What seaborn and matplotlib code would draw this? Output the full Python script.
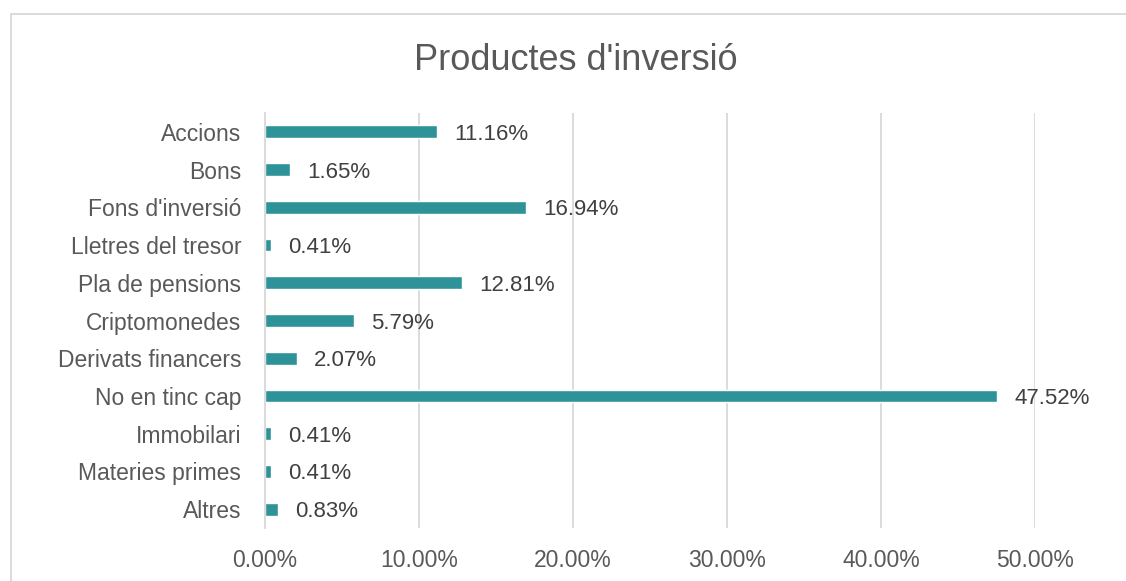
import pandas as pd
import seaborn as sns
import matplotlib.pyplot as plt
from matplotlib.patches import Rectangle
from matplotlib.ticker import PercentFormatter

# Data
categories = ['Accions', 'Bons', "Fons d'inversió", 'Lletres del tresor',
              'Pla de pensions', 'Criptomonedes', 'Derivats financers',
              'No en tinc cap', 'Immobilari', 'Materies primes', 'Altres']
shares = [11.16, 1.65, 16.94, 0.41, 12.81, 5.79, 2.07, 47.52, 0.41, 0.41, 0.83]

BAR_COLOR = '#2E9399'
TEXT_COLOR = '#595959'
GRID_COLOR = '#D9D9D9'

df = pd.DataFrame({'producte': categories, 'percent': shares})

sns.set_style('white')
plt.rcParams['font.family'] = ['Liberation Sans', 'DejaVu Sans']

fig = plt.figure(figsize=(11.26, 5.81), dpi=100)
ax = fig.add_axes([0.2353, 0.0912, 0.6843, 0.7143])

sns.barplot(data=df, x='percent', y='producte', color=BAR_COLOR,
            width=0.34, saturation=1, ax=ax, orient='h')

for i, v in enumerate(shares):
    ax.text(v + 1.1, i, f'{v:.2f}%', va='center_baseline', ha='left',
            fontsize=16, color='#404040')

ax.set_xlim(0, 50)
ax.set_ylim(10.5, -0.5)
ax.set_xticks([0, 10, 20, 30, 40, 50])
ax.xaxis.set_major_formatter(PercentFormatter(decimals=2))
ax.grid(axis='x', color=GRID_COLOR, linewidth=1.3)
ax.set_axisbelow(True)
ax.tick_params(axis='both', length=0, labelsize=16.5, labelcolor=TEXT_COLOR)
ax.tick_params(axis='y', pad=17)
ax.tick_params(axis='x', pad=15)
ax.set_xlabel('')
ax.set_ylabel('')
for side in ['top', 'right', 'bottom']:
    ax.spines[side].set_visible(False)
ax.spines['left'].set_color(GRID_COLOR)
ax.spines['left'].set_linewidth(1.3)

fig.text(0.511, 0.896, "Productes d'inversió", ha='center', va='center',
         fontsize=26, color=TEXT_COLOR)

# chart area border
fig.patches.append(Rectangle((11 / 1126, -0.1), 1.2, 1 - 14 / 581 + 0.1,
                             transform=fig.transFigure, fill=False,
                             edgecolor=GRID_COLOR, linewidth=1.3))

fig.savefig('out.png', dpi=100)
